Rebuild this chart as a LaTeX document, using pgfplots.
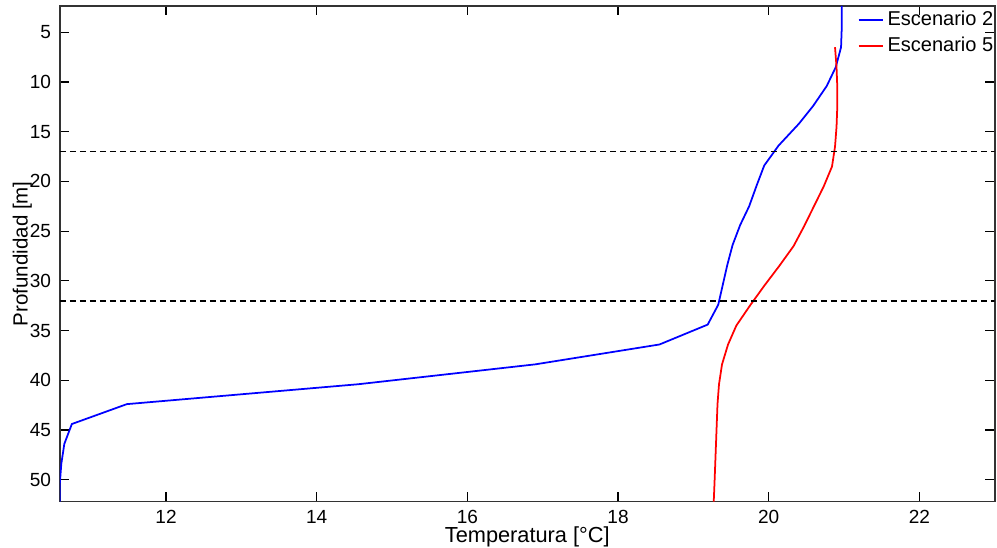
\documentclass[border=0pt]{standalone}
\usepackage{fontspec}
\setmainfont{Liberation Sans}
\usepackage{pgfplots}
\pgfplotsset{compat=1.18}

% Escenario 2 (blue) and Escenario 5 (red): temperature vs depth
\pgfplotstableread{
T d
20.97 2.35
20.97 4.4
20.96 6.5
20.89 8.5
20.77 10.4
20.59 12.4
20.40 14.2
20.13 16.4
19.94 18.4
19.84 20.4
19.74 22.5
19.62 24.4
19.52 26.4
19.45 28.4
19.39 30.4
19.33 32.4
19.19 34.4
18.55 36.4
16.90 38.4
14.55 40.4
11.48 42.4
10.75 44.4
10.65 46.4
10.61 48.4
10.59 50.4
10.59 52.2
}\escdos

\pgfplotstableread{
T d
20.88 6.5
20.90 8.5
20.91 10.5
20.91 12.5
20.90 14.5
20.88 16.5
20.84 18.5
20.73 20.5
20.60 22.5
20.47 24.5
20.33 26.5
20.14 28.5
19.94 30.5
19.75 32.5
19.57 34.5
19.46 36.4
19.38 38.4
19.34 40.4
19.32 42.4
19.31 44.4
19.30 46.4
19.29 48.4
19.28 50.4
19.27 52.2
}\esccinco

\begin{document}
\begin{tikzpicture}
\begin{axis}[
    name=ax,
    scale only axis,
    width=13.13cm,
    height=6.96cm,
    xmin=10.59, xmax=23,
    ymin=2.35, ymax=52.2,
    y dir=reverse,
    xtick={12,14,16,18,20,22},
    ytick={5,10,15,20,25,30,35,40,45,50},
    tick align=inside,
    major tick length=0.13cm,
    tick style={black, line width=0.5pt},
    axis line style={black!80, line width=0.7pt},
    tick label style={font=\fontsize{7.6}{9}\selectfont},
    /pgf/number format/assume math mode=true,
    xlabel={Temperatura [°C]},
    ylabel={Profundidad [m]},
    xlabel style={at={(axis description cs:0.5,-0.072)}, anchor=center, inner sep=0pt,
        font=\fontsize{8.7}{10}\selectfont},
    ylabel style={at={(axis description cs:-0.040,0.5)}, anchor=center, inner sep=0pt,
        font=\fontsize{8.2}{10}\selectfont},
    legend style={at={(0.853,0.998)}, anchor=north west, draw=none, fill=none,
        font=\fontsize{8}{9}\selectfont, inner sep=0pt,
        row sep=0pt,
        nodes={inner sep=1.5pt}},
    legend cell align={left},
    legend image code/.code={\draw[#1] (0cm,0cm) -- (0.34cm,0cm);},
]
\addplot[blue, line width=0.7pt] table[x=T, y=d] {\escdos};
\addlegendentry{Escenario 2}
\addplot[red, line width=0.7pt] table[x=T, y=d] {\esccinco};
\addlegendentry{Escenario 5}

% layer limits
\addplot[black, line width=0.65pt, dash pattern=on 2.4pt off 1.6pt, forget plot]
    coordinates {(10.59,17) (23,17)};
\addplot[black, line width=0.65pt, dash pattern=on 2.4pt off 1.6pt, forget plot]
    coordinates {(10.59,32) (23,32)};
\end{axis}
% white margin above the axis and left of the label, as in the reference
\path (ax.north) ++(0,0.084cm);
\path (ax.west) ++(-0.84cm,0);
\end{tikzpicture}
\end{document}
